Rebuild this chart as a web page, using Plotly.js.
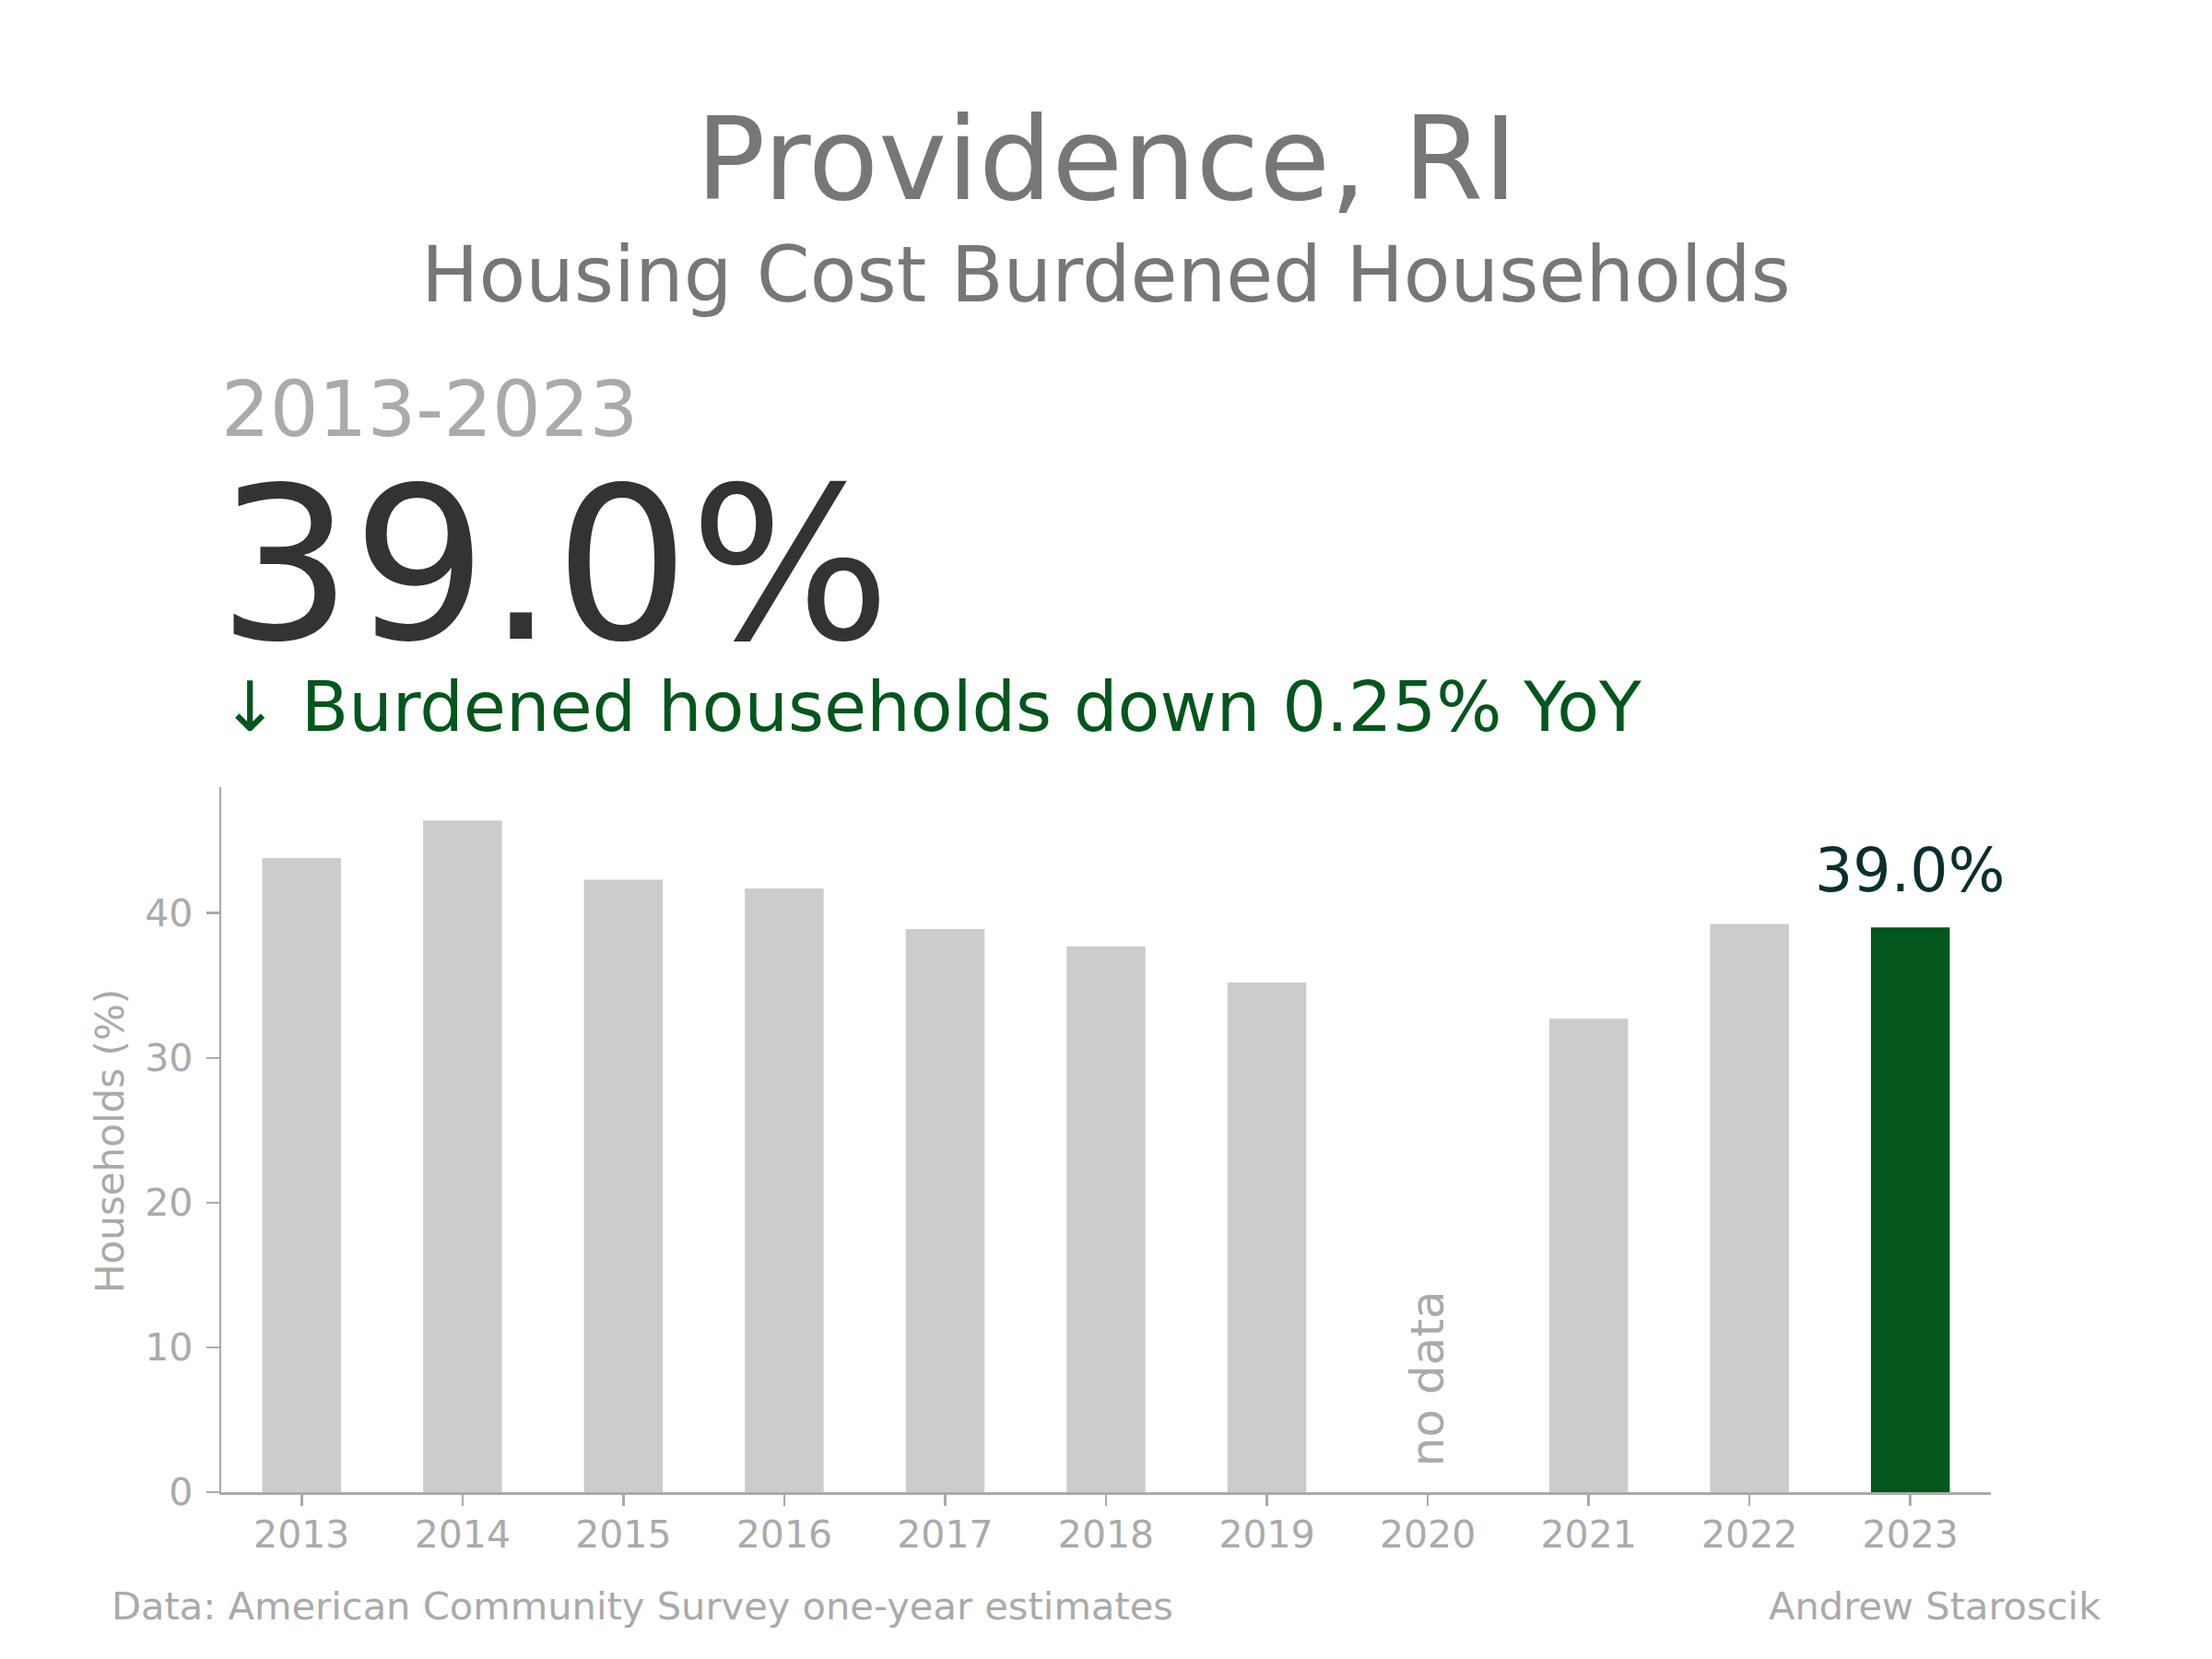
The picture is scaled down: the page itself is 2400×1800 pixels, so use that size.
<!DOCTYPE html>
<html>
<head>
<meta charset="utf-8">
<script src="https://cdn.plot.ly/plotly-3.0.1.min.js"></script>
<style>
  html, body { margin: 0; padding: 0; background: #ffffff; }
  #chart { width: 2400px; height: 1800px; }
</style>
</head>
<body>
<div id="chart"></div>
<script>
// ---- Data ----
const years = ["2013", "2014", "2015", "2016", "2017", "2018", "2019", "2020", "2021", "2022", "2023"];
const burdenedPct = [43.8, 46.4, 42.3, 41.7, 38.9, 37.7, 35.2, null, 32.7, 39.25, 39.0];
const highlightYear = "2023";
const missingYear = "2020";
const yTickVals = [0, 10, 20, 30, 40];
const titleText = "Providence, RI";
const subtitleText = "Housing Cost Burdened Households";
const periodText = "2013-2023";
const headlineText = "39.0%";
const changeText = "\u2193 Burdened households down 0.25% YoY";
const sourceText = "Data: American Community Survey one-year estimates";
const authorText = "Andrew Staroscik";

// ---- Styles ----
const FONT = "DejaVu Sans, Verdana, sans-serif";
const GRAY_BAR = "#cccccc";
const GREEN = "#03561c";
const AXIS_GRAY = "#aaaaaa";

const W = 2400, H = 1800;
const M = { l: 240, r: 240, t: 854, b: 181 };
const plotW = W - M.l - M.r, plotH = H - M.t - M.b;
const px = x => (x - M.l) / plotW;           // pixel -> paper x
const py = y => (H - M.b - y) / plotH;       // pixel -> paper y

const colors = years.map(y => y === highlightYear ? GREEN : GRAY_BAR);
const hiIdx = years.indexOf(highlightYear);
const missIdx = years.indexOf(missingYear);

const trace = {
  type: "bar",
  x: years,
  y: burdenedPct,
  marker: { color: colors, line: { width: 0 } },
  width: 0.49,
  hoverinfo: "skip"
};

const annotations = [
  { text: titleText, xref: "paper", yref: "paper", x: px(1200), y: py(172), xanchor: "center", yanchor: "middle",
    showarrow: false, font: { family: FONT, size: 125, color: "#777777" } },
  { text: subtitleText, xref: "paper", yref: "paper", x: px(1200), y: py(299), xanchor: "center", yanchor: "middle",
    showarrow: false, font: { family: FONT, size: 83, color: "#777777" } },
  { text: periodText, xref: "paper", yref: "paper", x: px(238), y: py(445), xanchor: "left", yanchor: "middle",
    showarrow: false, font: { family: FONT, size: 83, color: "#aaaaaa" } },
  { text: headlineText, xref: "paper", yref: "paper", x: px(234), y: py(613), xanchor: "left", yanchor: "middle",
    showarrow: false, font: { family: FONT, size: 230, color: "#333333" } },
  { text: changeText, xref: "paper", yref: "paper", x: px(238), y: py(767), xanchor: "left", yanchor: "middle",
    showarrow: false, font: { family: FONT, size: 75, color: GREEN } },
  { text: burdenedPct[hiIdx].toFixed(1) + "%", xref: "x", yref: "y", x: hiIdx, y: burdenedPct[hiIdx],
    xanchor: "center", yanchor: "bottom", yshift: 22,
    showarrow: false, font: { family: FONT, size: 65, color: "#0b2e2e" } },
  { text: "no data", xref: "x", yref: "y", x: missIdx, y: 2, xanchor: "center", yanchor: "bottom", yshift: -6,
    textangle: -90, showarrow: false, font: { family: FONT, size: 50, color: "#aaaaaa" } },
  { text: "Households (%)", xref: "paper", yref: "paper", x: px(119), y: py(1238), xanchor: "center", yanchor: "middle",
    textangle: -90, showarrow: false, font: { family: FONT, size: 42, color: "#aaaaaa" } },
  { text: sourceText, xref: "paper", yref: "paper", x: px(119), y: py(1742), xanchor: "left", yanchor: "middle",
    showarrow: false, font: { family: FONT, size: 41.6, color: "#aaaaaa" } },
  { text: authorText, xref: "paper", yref: "paper", x: px(2281), y: py(1742), xanchor: "right", yanchor: "middle",
    showarrow: false, font: { family: FONT, size: 41.6, color: "#aaaaaa" } }
];

const layout = {
  width: W, height: H,
  margin: M,
  paper_bgcolor: "#ffffff",
  plot_bgcolor: "#ffffff",
  showlegend: false,
  font: { family: FONT, color: AXIS_GRAY },
  xaxis: {
    type: "category",
    range: [-0.5, 10.5],
    showgrid: false, zeroline: false,
    showline: true, linecolor: AXIS_GRAY, linewidth: 2.5,
    ticks: "outside", ticklen: 12, tickwidth: 2.5, tickcolor: AXIS_GRAY,
    tickfont: { family: FONT, size: 41, color: AXIS_GRAY },
    ticklabelstandoff: -4,
    fixedrange: true
  },
  yaxis: {
    range: [0, 48.7],
    tickvals: yTickVals,
    showgrid: false, zeroline: false,
    showline: true, linecolor: AXIS_GRAY, linewidth: 2.5,
    ticks: "outside", ticklen: 14, tickwidth: 2.5, tickcolor: AXIS_GRAY,
    tickfont: { family: FONT, size: 41, color: AXIS_GRAY },
    ticklabelstandoff: 6,
    fixedrange: true
  },
  annotations: annotations
};

Plotly.newPlot("chart", [trace], layout, { staticPlot: true, displayModeBar: false });
</script>
</body>
</html>
